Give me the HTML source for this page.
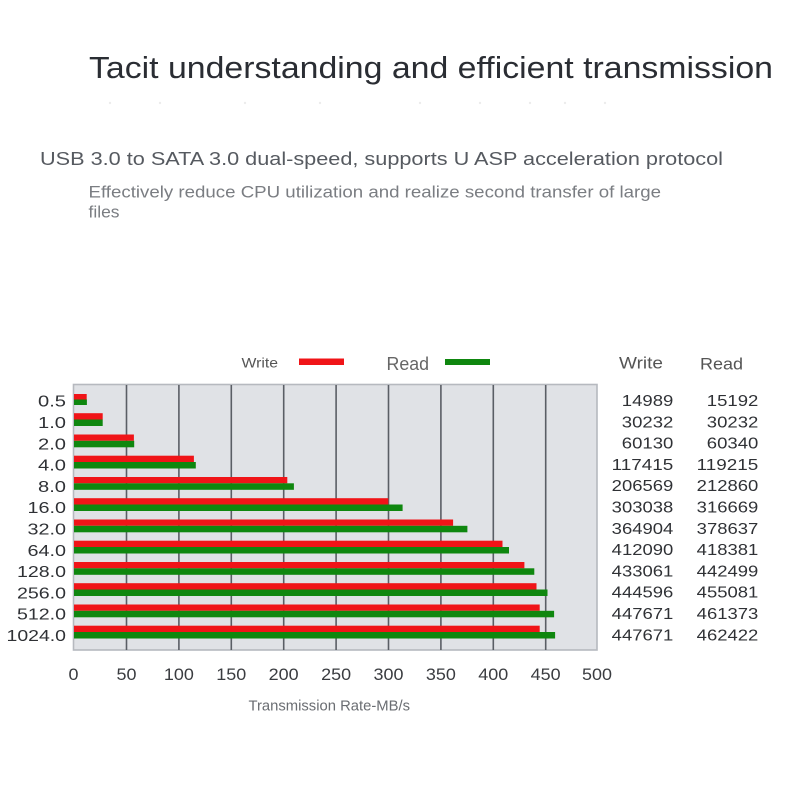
<!DOCTYPE html>
<html><head><meta charset="utf-8"><style>
html,body{margin:0;padding:0;background:#fff;}
svg{display:block;}
text{font-family:"Liberation Sans",Arial,sans-serif;}
</style></head><body>
<svg width="800" height="800" viewBox="0 0 800 800" xmlns="http://www.w3.org/2000/svg">
<rect width="800" height="800" fill="#ffffff"/>
<!-- Titles -->
<text x="89" y="78" font-size="31" fill="#2a2d33" textLength="684" lengthAdjust="spacingAndGlyphs">Tacit understanding and efficient transmission</text>
<g fill="#ececec">
<circle cx="110" cy="103" r="1.2"/><circle cx="160" cy="103" r="1.2"/><circle cx="245" cy="103" r="1.2"/><circle cx="320" cy="103" r="1.2"/><circle cx="420" cy="103" r="1.2"/><circle cx="480" cy="103" r="1.2"/><circle cx="530" cy="103" r="1.2"/><circle cx="565" cy="103" r="1.2"/><circle cx="605" cy="103" r="1.2"/>
</g>
<text x="40" y="165" font-size="18.5" fill="#565a60" textLength="683" lengthAdjust="spacingAndGlyphs">USB 3.0 to SATA 3.0 dual-speed, supports U ASP acceleration protocol</text>
<text x="88.5" y="197.5" font-size="17" fill="#7a7d82" textLength="572.5" lengthAdjust="spacingAndGlyphs">Effectively reduce CPU utilization and realize second transfer of large</text>
<text x="88.5" y="217.5" font-size="17" fill="#7a7d82" textLength="31" lengthAdjust="spacingAndGlyphs">files</text>

<!-- Legend -->
<text x="241.5" y="367.5" font-size="14" fill="#555" textLength="36.5" lengthAdjust="spacingAndGlyphs">Write</text>
<rect x="299" y="358.5" width="45" height="6.5" fill="#f01418"/>
<text x="386.5" y="370" font-size="18" fill="#666" textLength="42.5" lengthAdjust="spacingAndGlyphs">Read</text>
<rect x="445" y="359" width="45" height="6" fill="#0f870f"/>

<text x="619" y="368.5" font-size="17" fill="#555" textLength="44" lengthAdjust="spacingAndGlyphs">Write</text>
<text x="700" y="369.5" font-size="17" fill="#555" textLength="43" lengthAdjust="spacingAndGlyphs">Read</text>

<!-- Plot -->
<rect x="73.5" y="384.5" width="523.5" height="265.5" fill="#e0e2e6" stroke="#b6b9bf" stroke-width="1.6"/>
<g stroke="#5a5e65" stroke-width="1.6">
<line x1="126.5" y1="385" x2="126.5" y2="650"/>
<line x1="178.9" y1="385" x2="178.9" y2="650"/>
<line x1="231.3" y1="385" x2="231.3" y2="650"/>
<line x1="283.7" y1="385" x2="283.7" y2="650"/>
<line x1="336.1" y1="385" x2="336.1" y2="650"/>
<line x1="388.5" y1="385" x2="388.5" y2="650"/>
<line x1="440.9" y1="385" x2="440.9" y2="650"/>
<line x1="493.3" y1="385" x2="493.3" y2="650"/>
<line x1="545.7" y1="385" x2="545.7" y2="650"/>
</g>

<!-- Bars: x_end = 71 + v*1.047 -->
<g fill="#f01418">
<rect x="74" y="394" width="12.7" height="5.5"/>
<rect x="74" y="413.2" width="28.7" height="6.3"/>
<rect x="74" y="434.5" width="59.9" height="6.3"/>
<rect x="74" y="455.7" width="119.9" height="6.3"/>
<rect x="74" y="477" width="213.3" height="6.3"/>
<rect x="74" y="498.2" width="314.3" height="6.3"/>
<rect x="74" y="519.5" width="379.1" height="6.3"/>
<rect x="74" y="540.7" width="428.5" height="6.3"/>
<rect x="74" y="562" width="450.4" height="6.3"/>
<rect x="74" y="583.2" width="462.5" height="6.3"/>
<rect x="74" y="604.5" width="465.7" height="6.3"/>
<rect x="74" y="625.7" width="465.7" height="6.3"/>
</g>
<g fill="#0f870f">
<rect x="74" y="399.5" width="12.9" height="5.5"/>
<rect x="74" y="419.5" width="28.7" height="6.5"/>
<rect x="74" y="440.8" width="60.2" height="6.5"/>
<rect x="74" y="462" width="121.8" height="6.5"/>
<rect x="74" y="483.3" width="219.9" height="6.5"/>
<rect x="74" y="504.5" width="328.6" height="6.5"/>
<rect x="74" y="525.8" width="393.4" height="6.5"/>
<rect x="74" y="547" width="435" height="6.5"/>
<rect x="74" y="568.3" width="460.3" height="6.5"/>
<rect x="74" y="589.5" width="473.5" height="6.5"/>
<rect x="74" y="610.8" width="480.1" height="6.5"/>
<rect x="74" y="632" width="481.1" height="6.5"/>
</g>

<!-- Y labels -->
<g font-size="16" fill="#2f3135" text-anchor="end">
<text x="66" y="406.7" textLength="28" lengthAdjust="spacingAndGlyphs">0.5</text>
<text x="66" y="428" textLength="28" lengthAdjust="spacingAndGlyphs">1.0</text>
<text x="66" y="449.3" textLength="28" lengthAdjust="spacingAndGlyphs">2.0</text>
<text x="66" y="470.6" textLength="28" lengthAdjust="spacingAndGlyphs">4.0</text>
<text x="66" y="491.9" textLength="28" lengthAdjust="spacingAndGlyphs">8.0</text>
<text x="66" y="513.2" textLength="38.5" lengthAdjust="spacingAndGlyphs">16.0</text>
<text x="66" y="534.5" textLength="38.5" lengthAdjust="spacingAndGlyphs">32.0</text>
<text x="66" y="555.8" textLength="38.5" lengthAdjust="spacingAndGlyphs">64.0</text>
<text x="66" y="577.1" textLength="49" lengthAdjust="spacingAndGlyphs">128.0</text>
<text x="66" y="598.4" textLength="49" lengthAdjust="spacingAndGlyphs">256.0</text>
<text x="66" y="619.7" textLength="49" lengthAdjust="spacingAndGlyphs">512.0</text>
<text x="66" y="641" textLength="59.5" lengthAdjust="spacingAndGlyphs">1024.0</text>
</g>

<!-- X tick labels -->
<g font-size="17" fill="#3a3c40" text-anchor="middle">
<text x="73.5" y="680" textLength="10" lengthAdjust="spacingAndGlyphs">0</text>
<text x="126.5" y="680" textLength="20" lengthAdjust="spacingAndGlyphs">50</text>
<text x="178.9" y="680" textLength="30" lengthAdjust="spacingAndGlyphs">100</text>
<text x="231.3" y="680" textLength="30" lengthAdjust="spacingAndGlyphs">150</text>
<text x="283.7" y="680" textLength="30" lengthAdjust="spacingAndGlyphs">200</text>
<text x="336.1" y="680" textLength="30" lengthAdjust="spacingAndGlyphs">250</text>
<text x="388.5" y="680" textLength="30" lengthAdjust="spacingAndGlyphs">300</text>
<text x="440.9" y="680" textLength="30" lengthAdjust="spacingAndGlyphs">350</text>
<text x="493.3" y="680" textLength="30" lengthAdjust="spacingAndGlyphs">400</text>
<text x="545.7" y="680" textLength="30" lengthAdjust="spacingAndGlyphs">450</text>
<text x="597" y="680" textLength="30" lengthAdjust="spacingAndGlyphs">500</text>
</g>
<text x="248.5" y="710.7" font-size="14.5" fill="#6a6d72" textLength="161.5" lengthAdjust="spacingAndGlyphs">Transmission Rate-MB/s</text>

<!-- Right table -->
<g font-size="15.5" fill="#2f3135" text-anchor="end">
<text x="673.3" y="406" textLength="51.5" lengthAdjust="spacingAndGlyphs">14989</text>
<text x="673.3" y="427.3" textLength="51.5" lengthAdjust="spacingAndGlyphs">30232</text>
<text x="673.3" y="448.6" textLength="51.5" lengthAdjust="spacingAndGlyphs">60130</text>
<text x="673.3" y="469.9" textLength="61.6" lengthAdjust="spacingAndGlyphs">117415</text>
<text x="673.3" y="491.2" textLength="61.6" lengthAdjust="spacingAndGlyphs">206569</text>
<text x="673.3" y="512.5" textLength="61.6" lengthAdjust="spacingAndGlyphs">303038</text>
<text x="673.3" y="533.8" textLength="61.6" lengthAdjust="spacingAndGlyphs">364904</text>
<text x="673.3" y="555.1" textLength="61.6" lengthAdjust="spacingAndGlyphs">412090</text>
<text x="673.3" y="576.4" textLength="61.6" lengthAdjust="spacingAndGlyphs">433061</text>
<text x="673.3" y="597.7" textLength="61.6" lengthAdjust="spacingAndGlyphs">444596</text>
<text x="673.3" y="619" textLength="61.6" lengthAdjust="spacingAndGlyphs">447671</text>
<text x="673.3" y="640.3" textLength="61.6" lengthAdjust="spacingAndGlyphs">447671</text>

<text x="758.3" y="406" textLength="51.5" lengthAdjust="spacingAndGlyphs">15192</text>
<text x="758.3" y="427.3" textLength="51.5" lengthAdjust="spacingAndGlyphs">30232</text>
<text x="758.3" y="448.6" textLength="51.5" lengthAdjust="spacingAndGlyphs">60340</text>
<text x="758.3" y="469.9" textLength="61.6" lengthAdjust="spacingAndGlyphs">119215</text>
<text x="758.3" y="491.2" textLength="61.6" lengthAdjust="spacingAndGlyphs">212860</text>
<text x="758.3" y="512.5" textLength="61.6" lengthAdjust="spacingAndGlyphs">316669</text>
<text x="758.3" y="533.8" textLength="61.6" lengthAdjust="spacingAndGlyphs">378637</text>
<text x="758.3" y="555.1" textLength="61.6" lengthAdjust="spacingAndGlyphs">418381</text>
<text x="758.3" y="576.4" textLength="61.6" lengthAdjust="spacingAndGlyphs">442499</text>
<text x="758.3" y="597.7" textLength="61.6" lengthAdjust="spacingAndGlyphs">455081</text>
<text x="758.3" y="619" textLength="61.6" lengthAdjust="spacingAndGlyphs">461373</text>
<text x="758.3" y="640.3" textLength="61.6" lengthAdjust="spacingAndGlyphs">462422</text>
</g>
</svg>
</body></html>
